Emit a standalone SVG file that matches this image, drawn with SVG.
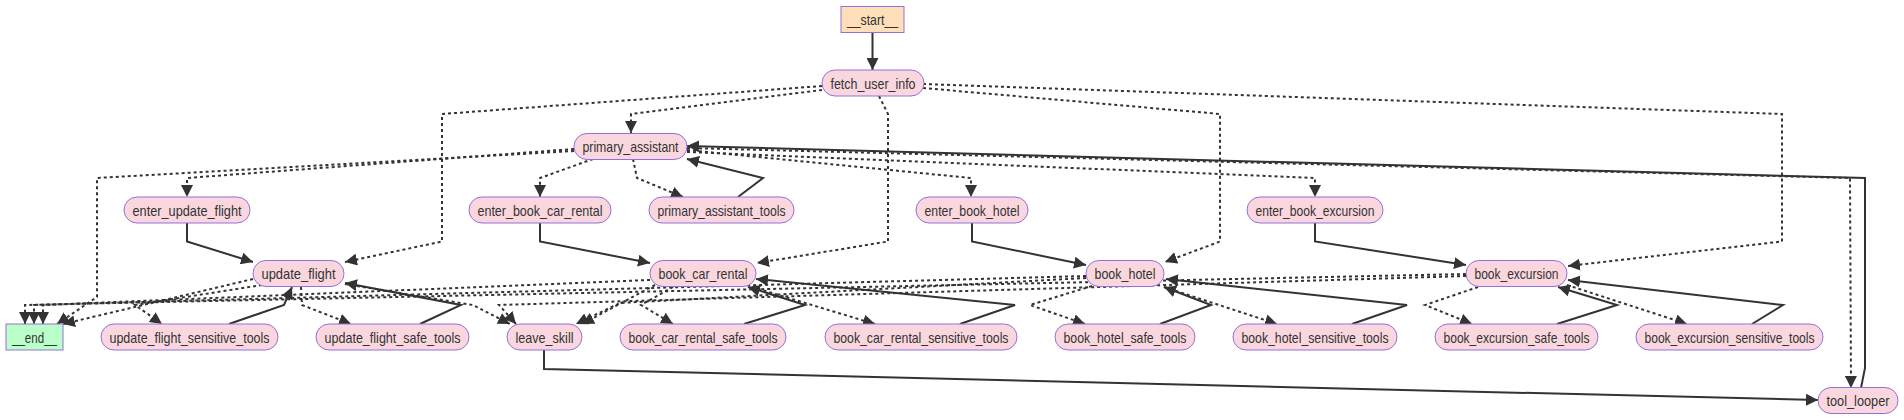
<svg xmlns="http://www.w3.org/2000/svg" width="1904" height="420" viewBox="0 0 1904 420">
<style>
.bg{fill:#ffffff}
.n rect{fill:#fad7de;stroke:#9370DB;stroke-width:1}
.n.start rect{fill:#ffdfba}
.n.end rect{fill:#baffc9}
.n text{font-family:"Liberation Sans",Arial,sans-serif;font-size:15px;fill:#333333;text-anchor:middle}
.e{fill:none;stroke:#333333;stroke-width:2;marker-end:url(#arrow)}
.d{stroke-dasharray:3 3}
</style>
<defs>
<marker id="arrow" viewBox="0 0 10 10" refX="10" refY="5" markerUnits="userSpaceOnUse" markerWidth="12" markerHeight="12" orient="auto">
<path d="M0,0 L10,5 L0,10 z" fill="#333333"/>
</marker>
</defs>
<rect class="bg" x="0" y="0" width="1904" height="420"/>
<g id="connectors">
<path class="e" d="M872.5,32.5 L872.5,70"/>
<path class="e" d="M738,197 L763,178 L687,159"/>
<path class="e" d="M187,223 L187,241.5 L253,262"/>
<path class="e" d="M540,223 L540,241.5 L650,263"/>
<path class="e" d="M972,223 L972,241.5 L1086,265"/>
<path class="e" d="M1315,223 L1315,241.5 L1466,265"/>
<path class="e" d="M229,324 L284,305 L292,287"/>
<path class="e" d="M420,324 L461,305 L345,283"/>
<path class="e" d="M744,324 L805,305 L748,287"/>
<path class="e" d="M960,324 L1015,305 L756,279"/>
<path class="e" d="M1160,324 L1211,305 L1164,287"/>
<path class="e" d="M1352,324 L1407,305 L1166,279"/>
<path class="e" d="M1557,324 L1617,305 L1558,287"/>
<path class="e" d="M1752,324 L1783,305 L1568,280"/>
<path class="e" d="M544,350 L544,369 L1818,400"/>
<path class="e" d="M1861,388 L1865,368 L1865,178 L687,146"/>
<path class="e d" d="M822,90 L631,114 L631,133"/>
<path class="e d" d="M822,86 L442,114 L442,241.5 L345,262"/>
<path class="e d" d="M879,96 L888,114 L888,241.5 L757,263"/>
<path class="e d" d="M923,88 L1220,114 L1220,241.5 L1165,262"/>
<path class="e d" d="M923,84 L1782,114 L1782,241.5 L1568,266"/>
<path class="e d" d="M574,149 L187,178 L187,197"/>
<path class="e d" d="M574,151 L97,178 L97,297 L57,324"/>
<path class="e d" d="M593,159 L540,178 L540,197"/>
<path class="e d" d="M633,159 L637,178 L683,197"/>
<path class="e d" d="M687,150 L971,178 L971,197"/>
<path class="e d" d="M687,152 L1315,178 L1315,197"/>
<path class="e d" d="M687,148 L1850,178 L1851,388"/>
<path class="e d" d="M262,285 L135,305 L162,324"/>
<path class="e d" d="M301,287 L302,305 L351,324"/>
<path class="e d" d="M345,284 L473,305 L510,324"/>
<path class="e d" d="M253,279 L63,324"/>
<path class="e d" d="M673,287 L641,305 L673,324"/>
<path class="e d" d="M752,287 L875,324"/>
<path class="e d" d="M655,285 L582,324"/>
<path class="e d" d="M650,280 L43,305 L43,324"/>
<path class="e d" d="M1092,286 L1030,305 L1085,324"/>
<path class="e d" d="M1164,287 L1277,324"/>
<path class="e d" d="M1086,278 L620,303 L576,324"/>
<path class="e d" d="M1086,276 L34,305 L34,324"/>
<path class="e d" d="M1478,287 L1425,305 L1472,324"/>
<path class="e d" d="M1567,285 L1687,324"/>
<path class="e d" d="M1466,276 L499,305 L516,324"/>
<path class="e d" d="M1466,274 L25,305 L25,324"/>
</g>
<g id="node-start" class="n start"><rect x="841" y="6.5" width="63" height="26"/><text x="872.5" y="25" textLength="51" lengthAdjust="spacingAndGlyphs">__start__</text></g>
<g id="node-fetch_user_info" class="n"><rect x="822" y="70" width="102" height="26" rx="13"/><text x="873" y="88.5" textLength="85" lengthAdjust="spacingAndGlyphs">fetch_user_info</text></g>
<g id="node-primary_assistant" class="n"><rect x="574" y="133.5" width="113" height="26" rx="13"/><text x="630.5" y="152" textLength="96" lengthAdjust="spacingAndGlyphs">primary_assistant</text></g>
<g id="node-enter_update_flight" class="n"><rect x="124" y="197" width="126" height="26" rx="13"/><text x="187" y="215.5" textLength="109" lengthAdjust="spacingAndGlyphs">enter_update_flight</text></g>
<g id="node-enter_book_car_rental" class="n"><rect x="469" y="197" width="142" height="26" rx="13"/><text x="540" y="215.5" textLength="125" lengthAdjust="spacingAndGlyphs">enter_book_car_rental</text></g>
<g id="node-primary_assistant_tools" class="n"><rect x="649" y="197" width="145" height="26" rx="13"/><text x="721.5" y="215.5" textLength="128" lengthAdjust="spacingAndGlyphs">primary_assistant_tools</text></g>
<g id="node-enter_book_hotel" class="n"><rect x="916" y="197" width="112" height="26" rx="13"/><text x="972" y="215.5" textLength="95" lengthAdjust="spacingAndGlyphs">enter_book_hotel</text></g>
<g id="node-enter_book_excursion" class="n"><rect x="1247" y="197" width="136" height="26" rx="13"/><text x="1315" y="215.5" textLength="119" lengthAdjust="spacingAndGlyphs">enter_book_excursion</text></g>
<g id="node-update_flight" class="n"><rect x="253" y="260.5" width="91" height="26" rx="13"/><text x="298.5" y="279" textLength="74" lengthAdjust="spacingAndGlyphs">update_flight</text></g>
<g id="node-book_car_rental" class="n"><rect x="650" y="260.5" width="106" height="26" rx="13"/><text x="703" y="279" textLength="89" lengthAdjust="spacingAndGlyphs">book_car_rental</text></g>
<g id="node-book_hotel" class="n"><rect x="1086" y="260.5" width="78" height="26" rx="13"/><text x="1125" y="279" textLength="61" lengthAdjust="spacingAndGlyphs">book_hotel</text></g>
<g id="node-book_excursion" class="n"><rect x="1466" y="260.5" width="101" height="26" rx="13"/><text x="1516.5" y="279" textLength="84" lengthAdjust="spacingAndGlyphs">book_excursion</text></g>
<g id="node-end" class="n end"><rect x="6" y="324" width="57" height="26"/><text x="34.5" y="342.5" textLength="45" lengthAdjust="spacingAndGlyphs">__end__</text></g>
<g id="node-update_flight_sensitive_tools" class="n"><rect x="101" y="324" width="177" height="26" rx="13"/><text x="189.5" y="342.5" textLength="160" lengthAdjust="spacingAndGlyphs">update_flight_sensitive_tools</text></g>
<g id="node-update_flight_safe_tools" class="n"><rect x="316" y="324" width="153" height="26" rx="13"/><text x="392.5" y="342.5" textLength="136" lengthAdjust="spacingAndGlyphs">update_flight_safe_tools</text></g>
<g id="node-leave_skill" class="n"><rect x="507" y="324" width="75" height="26" rx="13"/><text x="544.5" y="342.5" textLength="58" lengthAdjust="spacingAndGlyphs">leave_skill</text></g>
<g id="node-book_car_rental_safe_tools" class="n"><rect x="620" y="324" width="166" height="26" rx="13"/><text x="703" y="342.5" textLength="149" lengthAdjust="spacingAndGlyphs">book_car_rental_safe_tools</text></g>
<g id="node-book_car_rental_sensitive_tools" class="n"><rect x="825" y="324" width="192" height="26" rx="13"/><text x="921" y="342.5" textLength="175" lengthAdjust="spacingAndGlyphs">book_car_rental_sensitive_tools</text></g>
<g id="node-book_hotel_safe_tools" class="n"><rect x="1055" y="324" width="140" height="26" rx="13"/><text x="1125" y="342.5" textLength="123" lengthAdjust="spacingAndGlyphs">book_hotel_safe_tools</text></g>
<g id="node-book_hotel_sensitive_tools" class="n"><rect x="1233" y="324" width="164" height="26" rx="13"/><text x="1315" y="342.5" textLength="147" lengthAdjust="spacingAndGlyphs">book_hotel_sensitive_tools</text></g>
<g id="node-book_excursion_safe_tools" class="n"><rect x="1435" y="324" width="163" height="26" rx="13"/><text x="1516.5" y="342.5" textLength="146" lengthAdjust="spacingAndGlyphs">book_excursion_safe_tools</text></g>
<g id="node-book_excursion_sensitive_tools" class="n"><rect x="1636" y="324" width="187" height="26" rx="13"/><text x="1729.5" y="342.5" textLength="170" lengthAdjust="spacingAndGlyphs">book_excursion_sensitive_tools</text></g>
<g id="node-tool_looper" class="n"><rect x="1818" y="387.5" width="80" height="26" rx="13"/><text x="1858" y="406" textLength="63" lengthAdjust="spacingAndGlyphs">tool_looper</text></g>
</svg>
